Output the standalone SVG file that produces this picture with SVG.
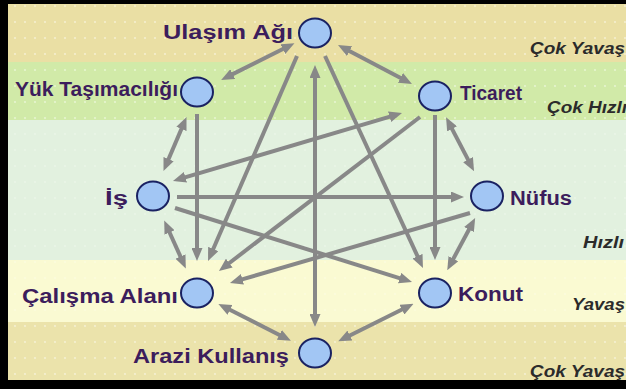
<svg xmlns="http://www.w3.org/2000/svg" width="626" height="389" viewBox="0 0 626 389">
  <style>
    .node ellipse { fill: #a2c6f4; stroke: #1a2262; stroke-width: 2; }
    .node text { font-family: "Liberation Sans", Arial, sans-serif; font-size: 20px; font-weight: bold; fill: #3c1d5c; }
    .speed { font-family: "Liberation Sans", Arial, sans-serif; font-size: 17px; font-weight: bold; font-style: italic; fill: #2b2b2b; }
    #connectors line { stroke: #888888; stroke-width: 4; fill: none; }
    #connectors line.dbl { marker-start: url(#ah); marker-end: url(#ah); }
    #connectors line.one { marker-end: url(#ah); }
  </style>
  <defs>
    <marker id="ah" viewBox="0 0 13 11" refX="4" refY="5.5" markerWidth="13" markerHeight="11" markerUnits="userSpaceOnUse" orient="auto-start-reverse">
      <path d="M0,0 L13,5.5 L0,11 z" fill="#888888"/>
    </marker>
    <pattern id="dots" width="10" height="16" patternUnits="userSpaceOnUse">
      <circle cx="5" cy="6" r="0.9" fill="#ffffff"/>
    </pattern>
  </defs>

  <!-- speed bands -->
  <g id="bands">
    <rect x="0" y="0" width="626" height="62" fill="#eadfa4"/>
    <rect x="0" y="62" width="626" height="58" fill="#d1eaa8"/>
    <rect x="0" y="120" width="626" height="140" fill="#e2f1df"/>
    <rect x="0" y="260" width="626" height="62" fill="#fafad2"/>
    <rect x="0" y="322" width="626" height="67" fill="#ebe3ab"/>
    <rect x="0" y="0" width="626" height="120" fill="url(#dots)" opacity="0.55"/>
    <rect x="0" y="120" width="626" height="202" fill="url(#dots)" opacity="0.3"/>
    <rect x="0" y="322" width="626" height="67" fill="url(#dots)" opacity="0.55"/>
  </g>

  <!-- speed labels -->
  <g id="speeds">
    <text class="speed" x="530" y="54" textLength="95" lengthAdjust="spacingAndGlyphs">Çok Yavaş</text>
    <text class="speed" x="547" y="113" textLength="80" lengthAdjust="spacingAndGlyphs">Çok Hızlı</text>
    <text class="speed" x="583" y="248" textLength="41" lengthAdjust="spacingAndGlyphs">Hızlı</text>
    <text class="speed" x="572" y="310" textLength="53" lengthAdjust="spacingAndGlyphs">Yavaş</text>
    <text class="speed" x="530" y="377" textLength="95" lengthAdjust="spacingAndGlyphs">Çok Yavaş</text>
  </g>

  <!-- links between factors -->
  <g id="connectors">
    <line class="dbl" x1="286.4" y1="47.3" x2="229.2" y2="75.9"/>
    <line class="dbl" x1="346" y1="49.3" x2="404" y2="79.7"/>
    <line class="dbl" x1="450.2" y1="125.3" x2="469.9" y2="163.2"/>
    <line class="dbl" x1="470.9" y1="226" x2="451.5" y2="262.2"/>
    <line class="dbl" x1="405.5" y1="307.8" x2="346.3" y2="337.3"/>
    <line class="dbl" x1="282.9" y1="336.7" x2="226.4" y2="308"/>
    <line class="dbl" x1="182.1" y1="260.2" x2="167.9" y2="228.8"/>
    <line class="dbl" x1="167" y1="162.8" x2="183" y2="125.2"/>
    <line class="dbl" x1="315" y1="74" x2="315" y2="318"/>
    <line class="dbl" x1="181.6" y1="178.4" x2="393.4" y2="115.6"/>
    <line class="one" x1="197" y1="114" x2="197" y2="252"/>
    <line class="one" x1="297" y1="56" x2="211.6" y2="252.7"/>
    <line class="one" x1="325" y1="56" x2="419.2" y2="259.8"/>
    <line class="one" x1="420" y1="117" x2="226.1" y2="265.5"/>
    <line class="one" x1="435" y1="115" x2="435" y2="251"/>
    <line class="one" x1="177" y1="197" x2="455" y2="197"/>
    <line class="one" x1="175" y1="208" x2="403.4" y2="279.3"/>
    <line class="one" x1="470" y1="213" x2="238.6" y2="280.4"/>
  </g>

  <!-- factors -->
  <g id="ulasim" class="node">
    <ellipse cx="315" cy="33" rx="16" ry="14.5"/>
    <text x="163" y="39" textLength="130" lengthAdjust="spacingAndGlyphs">Ulaşım Ağı</text>
  </g>
  <g id="yuk" class="node">
    <ellipse cx="197" cy="92" rx="16" ry="14.5"/>
    <text x="15" y="96" textLength="163" lengthAdjust="spacingAndGlyphs">Yük Taşımacılığı</text>
  </g>
  <g id="ticaret" class="node">
    <ellipse cx="435" cy="96" rx="16" ry="14.5"/>
    <text x="460" y="100" textLength="62" lengthAdjust="spacingAndGlyphs">Ticaret</text>
  </g>
  <g id="is" class="node">
    <ellipse cx="153" cy="196" rx="16" ry="14.5"/>
    <text x="105" y="205" textLength="23" lengthAdjust="spacingAndGlyphs">İş</text>
  </g>
  <g id="nufus" class="node">
    <ellipse cx="487" cy="196" rx="16" ry="14.5"/>
    <text x="510" y="205" textLength="62" lengthAdjust="spacingAndGlyphs">Nüfus</text>
  </g>
  <g id="calisma" class="node">
    <ellipse cx="197" cy="293" rx="16" ry="14.5"/>
    <text x="22" y="303" textLength="156" lengthAdjust="spacingAndGlyphs">Çalışma Alanı</text>
  </g>
  <g id="konut" class="node">
    <ellipse cx="435" cy="293" rx="16" ry="14.5"/>
    <text x="458" y="301" textLength="65" lengthAdjust="spacingAndGlyphs">Konut</text>
  </g>
  <g id="arazi" class="node">
    <ellipse cx="315" cy="353" rx="16" ry="14.5"/>
    <text x="133" y="363" textLength="156" lengthAdjust="spacingAndGlyphs">Arazi Kullanış</text>
  </g>

  <!-- frame -->
  <g id="frame" fill="#000000">
    <rect x="0" y="0" width="626" height="4"/>
    <rect x="0" y="0" width="8" height="389"/>
    <rect x="0" y="380" width="626" height="9"/>
  </g>
</svg>
